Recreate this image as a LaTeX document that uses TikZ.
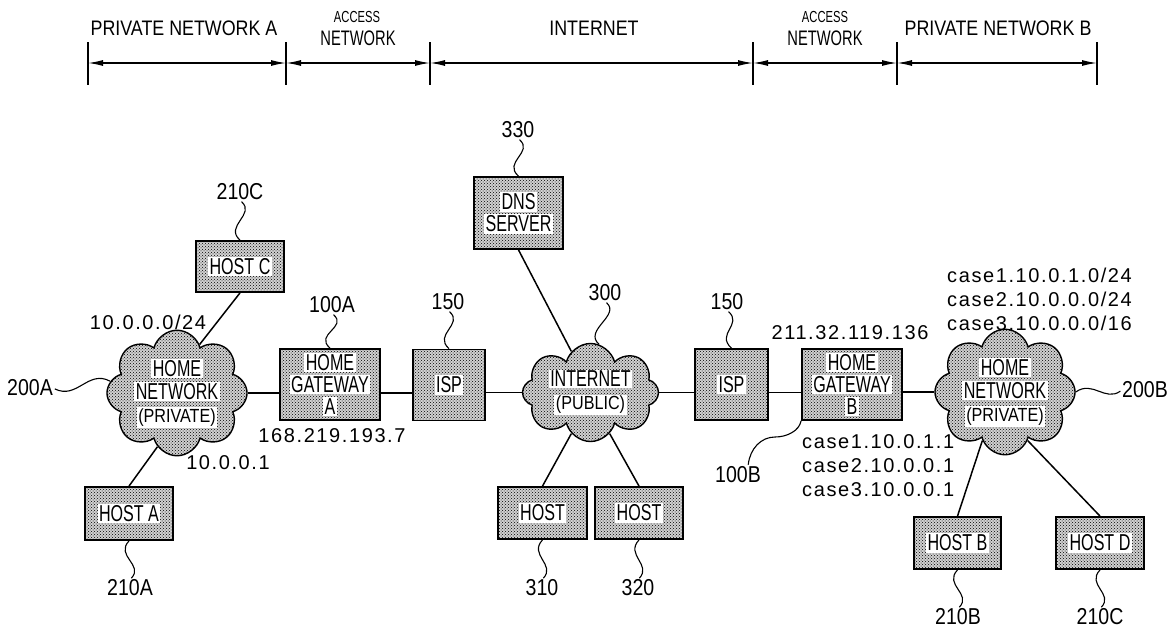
\documentclass[tikz,border=0pt]{standalone}
\usepackage{fontspec}
\setmainfont{Liberation Sans}
\newfontfamily\narrowfont[FakeStretch=0.7]{Liberation Sans}
\newfontfamily\reffont[FakeStretch=0.85]{Liberation Sans}
\newfontfamily\ipfont[LetterSpace=8]{Liberation Sans}
\usetikzlibrary{arrows.meta, patterns, shapes.symbols}
\newcommand{\clearpatch}[1]{{\setlength{\fboxsep}{1.5pt}\colorbox{white}{#1}}}

\begin{document}
\begin{tikzpicture}[x=1pt, y=-1pt,
    unit/.style={draw, line width=1.8pt, preaction={fill=black!18}, pattern=crosshatch dots,
        pattern color=black, inner sep=0pt, align=center, font=\narrowfont\fontsize{23}{22}\selectfont},
    host/.style={unit, minimum width=88pt, minimum height=52pt},
    gate/.style={unit, minimum width=100pt, minimum height=71pt},
    isp/.style={unit, minimum width=72pt, minimum height=71pt},
    net/.style={cloud, cloud puffs=8, cloud ignores aspect, draw, line width=1.4pt,
        preaction={fill=black!18}, pattern=crosshatch dots, pattern color=black,
        minimum width=136pt, minimum height=98pt, inner sep=0pt,
        align=center, font=\narrowfont\fontsize{23}{23}\selectfont},
    refnum/.style={inner sep=0pt, font=\reffont\fontsize{23}{23}\selectfont},
    addr/.style={inner sep=0pt, font=\ipfont\fontsize{20}{24}\selectfont},
    zone/.style={inner sep=0pt, font=\reffont\fontsize{21}{21}\selectfont},
    link/.style={line width=1.5pt},
    leader/.style={line width=1.1pt, shorten <=2pt},
    extent/.style={line width=1.3pt, {Latex[length=15pt,width=6pt]}-{Latex[length=15pt,width=6pt]}}
]
    \useasboundingbox (0,0) rectangle (1169,629);
    % Zones at the top
    \foreach \x [count=\i] in {88,286,430,753,897,1097} {
        \coordinate (t\i) at (\x,63);
        \draw[line width=1.3pt] (\x,42) -- (\x,85);
    }
    \foreach \a/\b in {1/2, 2/3, 3/4, 4/5, 5/6}
        \draw[extent] (t\a) -- (t\b);
    \node[zone] (zoneA) at (184,28) {PRIVATE NETWORK A};
    \node[inner sep=0pt, font=\narrowfont\fontsize{16}{16}\selectfont] (accA1) at (357,17) {ACCESS};
    \node[inner sep=0pt, font=\narrowfont\fontsize{21}{21}\selectfont] (accA2) at (358,38) {NETWORK};
    \node[zone] (zoneI) at (594,28) {INTERNET};
    \node[inner sep=0pt, font=\narrowfont\fontsize{16}{16}\selectfont] (accB1) at (825,17) {ACCESS};
    \node[inner sep=0pt, font=\narrowfont\fontsize{21}{21}\selectfont] (accB2) at (825,38) {NETWORK};
    \node[zone] (zoneB) at (998,28) {PRIVATE NETWORK B};

    % Private network A
    \node[net] (homeA) at (177,393) {\clearpatch{HOME}\\\clearpatch{NETWORK}\\{\reffont\fontsize{19}{19}\selectfont\clearpatch{(PRIVATE)}}};
    \node[host, minimum height=51pt] (hostC) at (240,266.5) {\clearpatch{HOST C}};
    \node[host, minimum height=53pt] (hostA) at (129,513.5) {\clearpatch{HOST A}};
    \node[gate] (gwA) at (330,384.5) {\clearpatch{HOME}\\\clearpatch{GATEWAY}\\\clearpatch{A}};

    % Internet
    \node[isp] (ispA) at (449,385) {\clearpatch{ISP}};
    \node[unit, minimum width=89pt, minimum height=72pt] (dns) at (518.5,213) {\clearpatch{DNS}\\\clearpatch{SERVER}};
    \node[net] (inet) at (590.5,392.5) {\clearpatch{INTERNET}\\{\reffont\fontsize{19}{19}\selectfont\clearpatch{(PUBLIC)}}};
    \node[host, minimum width=89pt] (host310) at (542.5,513) {\clearpatch{HOST}};
    \node[host] (host320) at (639,513) {\clearpatch{HOST}};
    \node[isp, minimum width=73pt] (ispB) at (731.5,384.5) {\clearpatch{ISP}};

    % Private network B
    \node[gate] (gwB) at (852,384.5) {\clearpatch{HOME}\\\clearpatch{GATEWAY}\\\clearpatch{B}};
    \node[net, minimum width=137pt, minimum height=96pt] (homeB) at (1005,392) {\clearpatch{HOME}\\\clearpatch{NETWORK}\\{\reffont\fontsize{19}{19}\selectfont\clearpatch{(PRIVATE)}}};
    \node[host, minimum width=87pt] (hostB) at (957.5,543) {\clearpatch{HOST B}};
    \node[host] (hostD) at (1100,543) {\clearpatch{HOST D}};

    % Reference numerals
    \node[refnum] (r210C) at (240,192) {210C};
    \node[refnum] (r100A) at (332,305) {100A};
    \node[refnum] (r200A) at (30,388) {200A};
    \node[refnum] (r210A) at (130,588) {210A};
    \node[refnum] (r150a) at (448,302) {150};
    \node[refnum] (r330) at (518,130) {330};
    \node[refnum] (r300) at (605,293) {300};
    \node[refnum] (r310) at (542,588) {310};
    \node[refnum] (r320) at (638,588) {320};
    \node[refnum] (r150b) at (727,302) {150};
    \node[refnum] (r100B) at (738,475) {100B};
    \node[refnum] (r200B) at (1145,390) {200B};
    \node[refnum] (r210B) at (958,617) {210B};
    \node[refnum] (r210D) at (1100,617) {210C};

    % Addresses
    \node[addr] (netA) at (148,322) {10.0.0.0/24};
    \node[addr] (pubA) at (332,436) {168.219.193.7};
    \node[addr] (gwAip) at (228,463) {10.0.0.1};
    \node[addr] (pubB) at (850,333) {211.32.119.136};
    \node[addr, align=left, anchor=west] (netB) at (947,299) {case1.10.0.1.0/24\\case2.10.0.0.0/24\\case3.10.0.0.0/16};
    \node[addr, align=left, anchor=west] (gwBip) at (802,466) {case1.10.0.1.1\\case2.10.0.0.1\\case3.10.0.0.1};

    % Links
    \draw[link] (homeA.east) -- (homeA.east -| gwA.west);
    \draw[link] (gwA.east |- homeA.east) -- (ispA.west |- homeA.east);
    \draw[link] (ispA.east |- inet.west) -- (inet.west);
    \draw[link] (inet.east) -- (inet.east -| ispB.west);
    \draw[link] (ispB.east |- inet.east) -- (gwB.west |- inet.east);
    \draw[link] (gwB.east |- homeB.west) -- (homeB.west);
    \draw[link] (hostC.south) -- (homeA.65);
    \draw[link] (homeA.250) -- (hostA.north);
    \draw[link] (dns.south) -- (inet.115);
    \draw[link] (inet.245) -- (host310.north);
    \draw[link] (inet.295) -- (host320.north);
    \draw[link] (homeB.245) -- (hostB.north);
    \draw[link] (homeB.295) -- (hostD.north);

    % Leaders
    \draw[leader] (r210C.south) .. controls +(16,14) and +(-16,-14) .. (hostC.north);
    \draw[leader] (r100A.south) .. controls +(16,14) and +(-16,-14) .. (gwA.north);
    \draw[leader] (r150a.south) .. controls +(16,14) and +(-16,-14) .. (ispA.north);
    \draw[leader] (r330.south) .. controls +(16,14) and +(-16,-14) .. (dns.north);
    \draw[leader] (r300.south) .. controls +(16,14) and +(-16,-14) .. (inet.80);
    \draw[leader] (r150b.south) .. controls +(16,14) and +(-16,-14) .. (ispB.north);
    \draw[leader] (r210A.north) .. controls +(14,-15) and +(-14,15) .. (hostA.south);
    \draw[leader] (r310.north) .. controls +(14,-15) and +(-14,15) .. (host310.south);
    \draw[leader] (r320.north) .. controls +(14,-15) and +(-14,15) .. (host320.south);
    \draw[leader] (r210B.north) .. controls +(14,-15) and +(-14,15) .. (hostB.south);
    \draw[leader] (r210D.north) .. controls +(14,-15) and +(-14,15) .. (hostD.south);
    \draw[leader] (r200A.east) .. controls +(24,12) and +(-22,-12) .. (homeA.170);
    \draw[leader] (r200B.west) .. controls +(-17,12) and +(17,-12) .. (homeB.east);
    \coordinate (bend100B) at (775,437);
    \draw[leader] ([xshift=10pt]r100B.north) .. controls +(2,-18) and +(-14,0) .. (bend100B)
        .. controls +(12,0) and +(-2,10) .. (gwB.south west);
\end{tikzpicture}
\end{document}
